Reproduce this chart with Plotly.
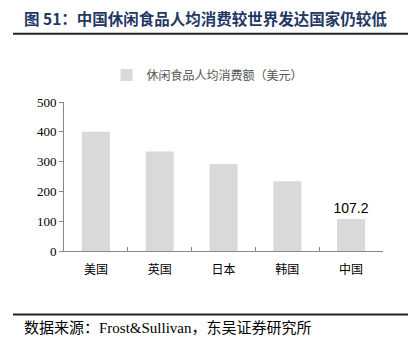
import plotly.graph_objects as go

categories = ["美国", "英国", "日本", "韩国", "中国"]
values = [400, 334, 292, 234, 107.2]
labels = ["", "", "", "", "107.2"]
series_name = "休闲食品人均消费额（美元）"
y_ticks = [0, 100, 200, 300, 400, 500]

SERIF = "Liberation Serif, Noto Sans CJK SC, serif"

# page body has an 8px default margin; compensate so marks land where the reference has them
OFF = 8
PH = 148.7  # plot height in px
PW = 319    # plot width in px
Y0 = 250.7  # pixel y of the x-axis in the reference

fig = go.Figure()
fig.add_trace(go.Bar(
    x=categories, y=values, name=series_name,
    marker=dict(color="#d9d9d9", line=dict(width=0)),
    width=0.44,
    text=labels, textposition="outside", constraintext="none",
    textfont=dict(family="Liberation Sans, Arial, sans-serif", size=14, color="#000000"),
    cliponaxis=False,
    showlegend=True,
))

fig.update_layout(
    width=417 - OFF, height=357 - OFF,
    margin=dict(l=64 - OFF, r=34, t=102 - OFF, b=106),
    paper_bgcolor="white", plot_bgcolor="white",
    font=dict(family=SERIF, size=12, color="#000000"),
    showlegend=True,
    legend=dict(orientation="h", x=0.45, xanchor="center", y=(Y0 - 75) / PH, yanchor="middle",
                font=dict(family="Noto Sans CJK SC, sans-serif", size=12, color="#555555"),
                itemwidth=30, bgcolor="rgba(0,0,0,0)"),
    xaxis=dict(
        type="category", showline=True, linecolor="#888888", linewidth=1,
        ticks="inside", tickson="boundaries", ticklen=4, tickcolor="#888888",
        tickfont=dict(family="Noto Sans CJK SC, sans-serif", size=12, color="#000000"),
        ticklabelstandoff=8,
        showgrid=False, zeroline=False,
    ),
    yaxis=dict(
        range=[0, 500], tickvals=y_ticks, showline=True, linecolor="#888888", linewidth=1,
        ticks="outside", ticklen=4, tickcolor="#888888",
        tickfont=dict(family="Liberation Serif, serif", size=13, color="#000000"),
        showgrid=False, zeroline=False,
    ),
    shapes=[
        dict(type="line", xref="paper", yref="paper", x0=-51 / PW, x1=344 / PW,
             y0=(Y0 - 34) / PH, y1=(Y0 - 34) / PH,
             line=dict(color="#222222", width=2)),
        dict(type="line", xref="paper", yref="paper", x0=-51 / PW, x1=344 / PW,
             y0=(Y0 - 314) / PH, y1=(Y0 - 314) / PH,
             line=dict(color="#222222", width=2)),
    ],
    annotations=[
        dict(text="<b>图 51：中国休闲食品人均消费较世界发达国家仍较低</b>",
             xref="paper", yref="paper", x=(22 - 64) / PW, y=(Y0 - 18) / PH,
             xanchor="left", yanchor="middle", showarrow=False,
             font=dict(family="Noto Sans CJK SC, sans-serif", size=15.5, color="#1f3864")),
        dict(text="数据来源：Frost&Sullivan，东吴证券研究所",
             xref="paper", yref="paper", x=(22 - 64) / PW, y=(Y0 - 328) / PH,
             xanchor="left", yanchor="middle", showarrow=False,
             font=dict(family=SERIF, size=15, color="#000000")),
    ],
)

fig.write_html("out.html")
